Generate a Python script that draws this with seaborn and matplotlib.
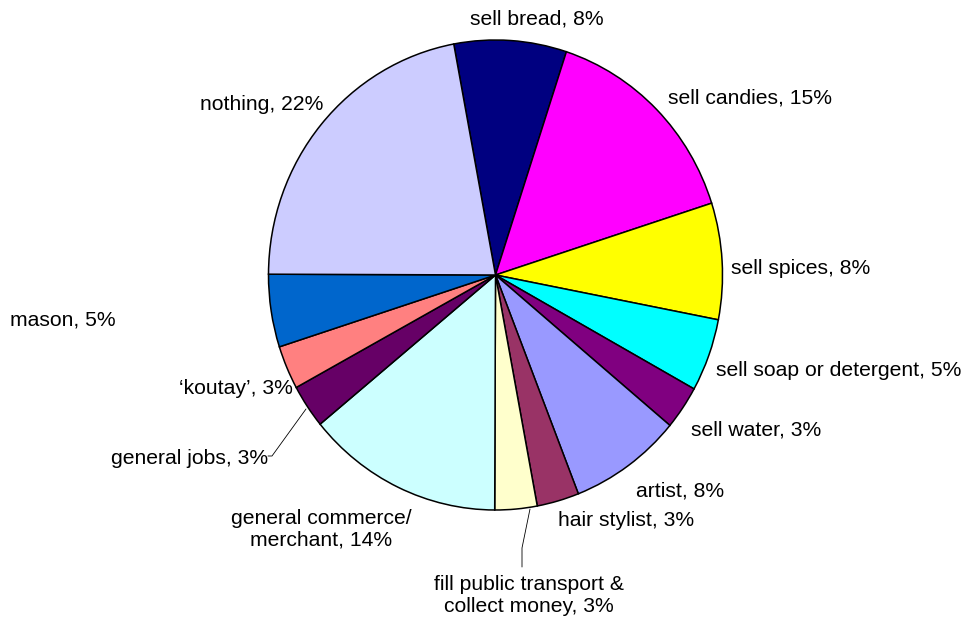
import matplotlib
matplotlib.use("Agg")
import matplotlib.pyplot as plt
import seaborn as sns

# Share of respondents by activity (percent)
categories = [
    "sell bread", "sell candies", "sell spices", "sell soap or detergent",
    "sell water", "artist", "hair stylist",
    "fill public transport &\ncollect money", "general commerce/\nmerchant",
    "general jobs", "\u2018koutay\u2019", "mason", "nothing",
]
values = [8, 15, 8, 5, 3, 8, 3, 3, 14, 3, 3, 5, 22]
colors = [
    "#000080", "#FF00FF", "#FFFF00", "#00FFFF", "#800080", "#9999FF",
    "#993366", "#FFFFCC", "#CCFFFF", "#660066", "#FF8080", "#0066CC",
    "#CCCCFF",
]

sns.set_theme(style="white")
plt.rcParams["font.family"] = ["Liberation Sans", "DejaVu Sans"]

W, H = 967, 622
K = 235 / 227  # vertical stretch of the pie


def Y(py):
    return (H - py) / K


fig = plt.figure(figsize=(W / 100, H / 100), dpi=100)
ax = fig.add_axes([0, 0, 1, 1])

ax.pie(
    values,
    colors=sns.color_palette(colors),
    startangle=100.6,
    counterclock=False,
    center=(495.5, Y(275)),
    radius=227,
    wedgeprops=dict(edgecolor="black", linewidth=1.1),
)
ax.set_xlim(0, W)
ax.set_ylim(0, H / K)
ax.set_aspect("auto")
ax.axis("off")

# Label placement: (x, y, horizontal alignment)
label_layout = [
    (470, 19, "left"),
    (668, 98, "left"),
    (731, 268, "left"),
    (716, 370, "left"),
    (691, 430, "left"),
    (636, 491, "left"),
    (558, 520, "left"),
    (529, 596, "center"),
    (321, 529, "center"),
    (268, 458, "right"),
    (293, 388, "right"),
    (10, 320, "left"),
    (323, 105, "right"),
]

for name, val, (lx, ly, ha) in zip(categories, values, label_layout):
    ax.text(lx, Y(ly), f"{name}, {val}%", ha=ha, va="center",
            multialignment="center", fontsize=15.2, color="black",
            linespacing=1.2)

# Leader lines for the narrow slices
ax.plot([268, 272, 306], [Y(456), Y(456), Y(409)], color="black", lw=0.6)
ax.plot([522, 522, 530], [Y(567), Y(548), Y(509)], color="black", lw=0.6)

fig.savefig("out.png", dpi=100)
